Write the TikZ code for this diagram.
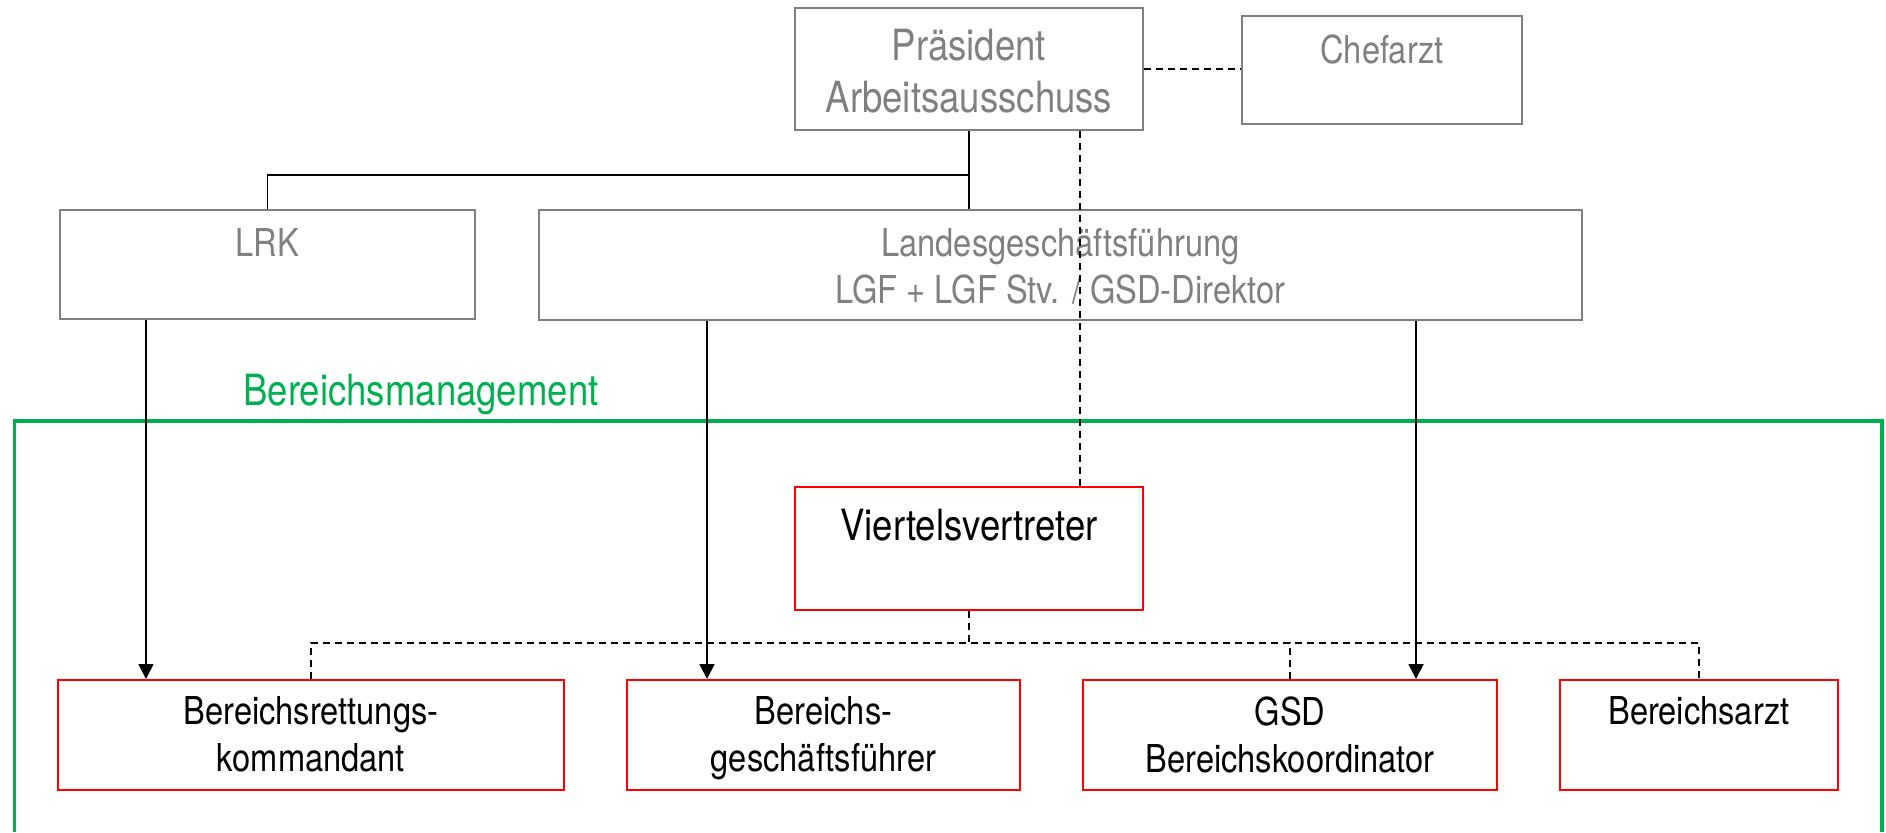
\documentclass[tikz,border=0pt]{standalone}
\usepackage{fontspec}
\setmainfont{TeX Gyre Heros}[FakeStretch=0.85]
\usetikzlibrary{positioning,arrows.meta}
\definecolor{grautext}{RGB}{128,128,128}
\definecolor{rahmenrot}{RGB}{255,0,0}
\definecolor{bmgruen}{RGB}{0,176,80}

\begin{document}
\begin{tikzpicture}[x=0.5pt,y=0.5pt,yscale=-1,
  kasten/.style={draw, rectangle, line width=1pt, inner sep=0pt},
  oben/.style={kasten, draw=grautext},
  unten/.style={kasten, draw=rahmenrot},
  txtgross/.style={anchor=north, inner sep=0pt, align=center, font=\fontsize{21.5pt}{26pt}\selectfont},
  txt/.style={anchor=north, inner sep=0pt, align=center, font=\fontsize{19.2pt}{23.5pt}\selectfont},
  linie/.style={line width=0.9pt},
  strich/.style={linie, dash pattern=on 3.6pt off 2.4pt},
  pfeil/.style={linie, -{Triangle[length=7.5pt,width=7.5pt]}}]
\useasboundingbox (0,0) rectangle (1886,832);

% Rahmen Bereichsmanagement
\draw[bmgruen, line width=1.7pt] (14.5,832) -- (14.5,421) -- (1882,421) -- (1882,832);
\node[txtgross, text=bmgruen, anchor=base] (bm) at (421,405) {Bereichsmanagement};

% Kaesten
\node[oben, minimum width=174pt, minimum height=61pt] (pres) at (969,69) {};
\node[oben, minimum width=140pt, minimum height=54pt] (chef) at (1382,70) {};
\node[oben, minimum width=207.5pt, minimum height=54.5pt] (lrk) at (267.5,264.5) {};
\node[oben, minimum width=521.5pt, minimum height=55pt] (lgf) at (1060.5,265) {};
\node[unten, minimum width=174pt, minimum height=61.5pt] (viertel) at (969,548.5) {};
\node[unten, minimum width=253pt, minimum height=55pt] (brk) at (311,735) {};
\node[unten, minimum width=196.5pt, minimum height=55pt] (bgf) at (823.5,735) {};
\node[unten, minimum width=207pt, minimum height=55pt] (gsd) at (1290,735) {};
\node[unten, minimum width=139pt, minimum height=55pt] (arzt) at (1699,735) {};

% Texte
\node[txtgross, text=grautext, below=11pt of pres.north] (presT) {Präsident\\Arbeitsausschuss};
\node[txt, text=grautext, below=9.5pt of chef.north] (chefT) {Chefarzt};
\node[txt, text=grautext, below=9.5pt of lrk.north] (lrkT) {LRK};
\node[txt, text=grautext, below=9.5pt of lgf.north] (lgfT) {Landesgeschäftsführung\\LGF + LGF Stv. / GSD-Direktor};
\node[txtgross, below=11.5pt of viertel.north] (viertelT) {Viertelsvertreter};
\node[txt, below=8.5pt of brk.north] (brkT) {Bereichsrettungs-\\kommandant};
\node[txt, below=8.5pt of bgf.north] (bgfT) {Bereichs-\\geschäftsführer};
\node[txt, below=8.5pt of gsd.north] (gsdT) {GSD\\Bereichskoordinator};
\node[txt, below=8.5pt of arzt.north] (arztT) {Bereichsarzt};

% Verbindungen
\draw[linie] (pres.south) -- (pres.south |- lgf.north);
\draw[linie] (pres.south) -- ++(0,44) -| (lrk.north);
\draw[strich] (pres.east) -- (pres.east -| chef.west);
\draw[strich] ([xshift=55.5pt]pres.south) -- ([xshift=55.5pt]pres.south |- viertel.north);
\draw[pfeil] ([xshift=-60.75pt]lrk.south) -- ([xshift=-60.75pt]lrk.south |- brk.north);
\draw[pfeil] ([xshift=-176.75pt]lgf.south) -- ([xshift=-176.75pt]lgf.south |- bgf.north);
\draw[pfeil] ([xshift=177.75pt]lgf.south) -- ([xshift=177.75pt]lgf.south |- gsd.north);
\coordinate (bus) at (969,643);
\draw[strich] (viertel.south) -- (bus);
\draw[strich] (brk.north) |- (bus) -| (arzt.north);
\draw[strich] (gsd.north) |- (bus);
\end{tikzpicture}
\end{document}
